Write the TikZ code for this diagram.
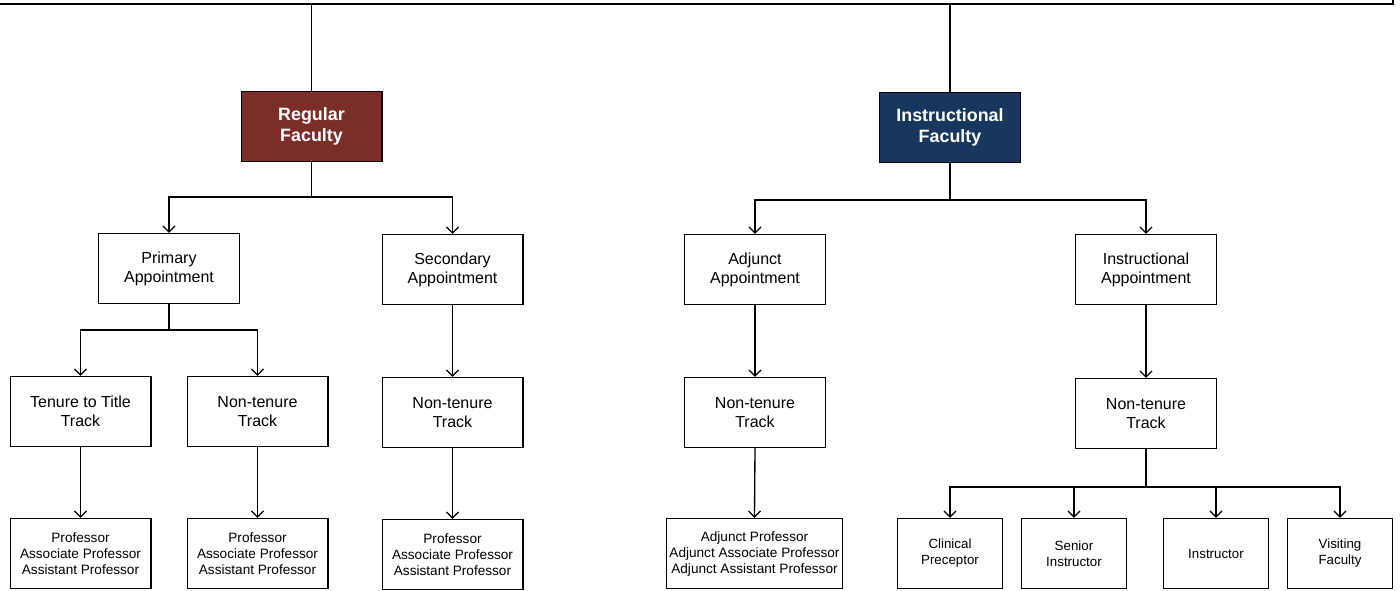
\documentclass[tikz,border=0pt]{standalone}
\usepackage{fontspec}
\setmainfont{Liberation Sans}
\usetikzlibrary{arrows.meta}
\definecolor{regred}{HTML}{7B2E28}
\definecolor{insblue}{HTML}{17375E}
\begin{document}
\begin{tikzpicture}[x=0.75pt,y=-0.75pt,
  bx/.style={draw=black,line width=1pt,rectangle,inner sep=0pt,align=center,
    minimum width=105.5pt,minimum height=52.5pt},
  midtxt/.style={font=\fontsize{12pt}{14.25pt}\selectfont},
  smalltxt/.style={font=\fontsize{10.2pt}{12pt}\selectfont},
  tinytxt/.style={font=\fontsize{10pt}{12pt}\selectfont},
  toptxt/.style={font=\fontsize{13.4pt}{15.75pt}\selectfont\bfseries,text=white},
  conn/.style={line width=1pt,draw=black},
  arr/.style={conn,-{Straight Barb[length=4.5pt,width=9pt,line width=0.9pt]}}
]
\useasboundingbox (0,0) rectangle (1400,591);
% cut-off frame at top
\coordinate (fl) at (-10,4);
\coordinate (fc) at (1393,4);
\coordinate (ft) at (1393,-10);
\draw[line width=1.6pt] (fl) -- (fc) -- (ft);

% top level
\node[bx,toptxt,fill=regred] (rf) at (311.5,126.5) {Regular\\Faculty};
\node[bx,toptxt,fill=insblue] (if) at (950,127.5) {Instructional\\Faculty};

% second level
\node[bx,midtxt] (pa) at (169,268.5) {Primary\\Appointment};
\node[bx,midtxt] (sa) at (452.5,269.5) {Secondary\\Appointment};
\node[bx,midtxt] (aa) at (755,269.5) {Adjunct\\Appointment};
\node[bx,midtxt] (ia) at (1146,269.5) {Instructional\\Appointment};

% third level
\node[bx,midtxt] (tt) at (80.5,411.5) {Tenure to Title\\Track};
\node[bx,midtxt] (nt1) at (257.5,411.5) {Non-tenure\\Track};
\node[bx,midtxt] (nt2) at (452.5,412.5) {Non-tenure\\Track};
\node[bx,midtxt] (nt3) at (755,412.5) {Non-tenure\\Track};
\node[bx,midtxt] (nt4) at (1146,413.5) {Non-tenure\\Track};

% fourth level
\node[bx,smalltxt] (p1) at (80.5,553.5) {Professor\\Associate Professor\\Assistant Professor};
\node[bx,smalltxt] (p2) at (257.5,553.5) {Professor\\Associate Professor\\Assistant Professor};
\node[bx,smalltxt] (p3) at (452.5,554.5) {Professor\\Associate Professor\\Assistant Professor};
\node[bx,smalltxt,minimum width=132pt] (ap) at (754.5,553.5) {Adjunct Professor\\Adjunct Associate Professor\\Adjunct Assistant Professor};
\node[bx,tinytxt,minimum width=79pt] (cp) at (950,553.5) {Clinical\\Preceptor};
\node[bx,tinytxt,minimum width=79pt] (si) at (1074,553.5) {Senior\\Instructor};
\node[bx,tinytxt,minimum width=79pt] (in) at (1216,553.5) {Instructor};
\node[bx,tinytxt,minimum width=79pt] (vf) at (1340,553.5) {Visiting\\Faculty};

% connectors from frame
\draw[conn] (rf.north |- fc) -- (rf.north);
\draw[conn] (if.north |- fc) -- (if.north);

% regular faculty branches
\coordinate (rfb) at (311.5,197);
\draw[conn] (rf.south) -- (rfb);
\draw[arr] (rfb) -| (pa.north);
\draw[arr] (rfb) -| (sa.north);

% instructional faculty branches
\coordinate (ifb) at (950,200);
\draw[conn] (if.south) -- (ifb);
\draw[arr] (ifb) -| (aa.north);
\draw[arr] (ifb) -| (ia.north);

% primary appointment
\coordinate (pab) at (169,330);
\draw[conn] (pa.south) -- (pab);
\draw[arr] (pab) -| (tt.north);
\draw[arr] (pab) -| (nt1.north);

% straight arrows
\draw[arr] (sa.south) -- (nt2.north);
\draw[arr] (aa.south) -- (nt3.north);
\draw[arr] (ia.south) -- (nt4.north);
\draw[arr] (tt.south) -- (p1.north);
\draw[arr] (nt1.south) -- (p2.north);
\draw[arr] (nt2.south) -- (p3.north);
\draw[arr] (nt3.south) -- (ap.north);

% instructional non-tenure
\coordinate (ntb) at (1146,487);
\draw[conn] (nt4.south) -- (ntb);
\draw[arr] (ntb) -| (cp.north);
\draw[arr] (ntb) -| (si.north);
\draw[arr] (ntb) -| (in.north);
\draw[arr] (ntb) -| (vf.north);
\end{tikzpicture}
\end{document}
